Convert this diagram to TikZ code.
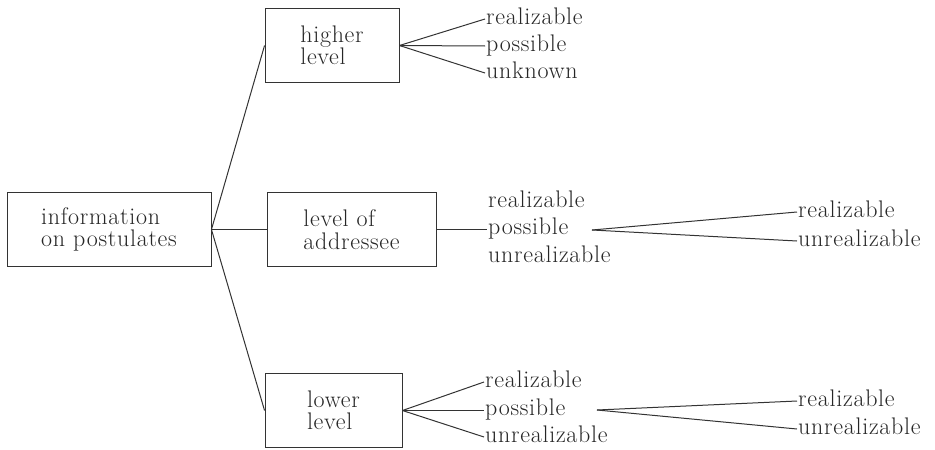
\documentclass[tikz,border=0pt]{standalone}
\usepackage{fontspec}
\setmainfont{Latin Modern Roman}[LetterSpace=3]
\usetikzlibrary{positioning}
\begin{document}
\begin{tikzpicture}[x=1pt, y=-1pt,
    every node/.style={text=black!85},
    box/.style={draw=black!80, line width=0.9pt, minimum width=#1, minimum height=74pt, align=left, inner sep=0pt, font=\fontsize{24}{22.5}\selectfont},
    lbl/.style={anchor=west, inner sep=1pt, text height=10.3pt, text depth=0pt, font=\fontsize{24}{28}\selectfont},
    link/.style={draw=black!80, line width=1pt}
]
    \useasboundingbox (0,0) rectangle (935,450);
    \node[box=204pt] (info) at (109,229.5) {information\\on postulates};
    \node[box=134pt] (high) at (332,45.5) {higher\\level};
    \node[box=169pt] (addr) at (351.5,229.5) {level of\\addressee};
    \node[box=137pt] (low) at (333.5,410.5) {lower\\level};
    \node[lbl] (h1) at (485,19) {realizable};
    \node[lbl] (h2) at (485,46) {possible};
    \node[lbl] (h3) at (485,73) {unknown};
    \node[lbl] (a1) at (487,202) {realizable};
    \node[lbl] (a2) at (487,229.5) {possible};
    \node[lbl] (a3) at (487,257) {unrealizable};
    \coordinate (af) at (592,230);
    \node[lbl] (ar) at (797,212) {realizable};
    \node[lbl] (au) at (797,241) {unrealizable};
    \node[lbl] (l1) at (484,382) {realizable};
    \node[lbl] (l2) at (484,410.5) {possible};
    \node[lbl] (l3) at (484,437) {unrealizable};
    \coordinate (lf) at (597,410);
    \node[lbl] (lr) at (797,401) {realizable};
    \node[lbl] (lu) at (797,429) {unrealizable};
    \draw[link] (info.east) -- (high.west);
    \draw[link] (info.east) -- (addr.west);
    \draw[link] (info.east) -- (low.west);
    \draw[link] (high.east) -- (h1.west);
    \draw[link] (high.east) -- (h2.west);
    \draw[link] (high.east) -- (h3.west);
    \draw[link] (addr.east) -- (a2.west);
    \draw[link] (af) -- (ar.west);
    \draw[link] (af) -- (au.west);
    \draw[link] (low.east) -- (l1.west);
    \draw[link] (low.east) -- (l2.west);
    \draw[link] (low.east) -- (l3.west);
    \draw[link] (lf) -- (lr.west);
    \draw[link] (lf) -- (lu.west);
\end{tikzpicture}
\end{document}
